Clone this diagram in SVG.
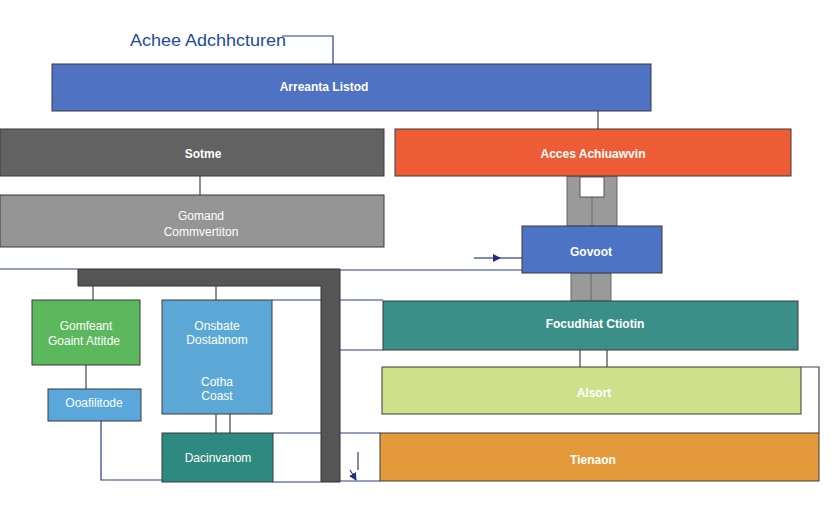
<svg xmlns="http://www.w3.org/2000/svg" width="832" height="512" viewBox="0 0 832 512">
<style>
.t{font-family:"Liberation Sans",Arial,sans-serif;font-size:12px;fill:#fff;text-anchor:middle;font-weight:bold}
.ln{stroke:#2b3d8a;stroke-width:1.2;fill:none}
.gl{stroke:#444;stroke-width:1.2;fill:none}
.bx{stroke:#3a3a3a;stroke-width:1}
</style>
<defs>
<marker id="ah" markerWidth="8" markerHeight="8" refX="7" refY="4" orient="auto" markerUnits="userSpaceOnUse">
<path d="M0,0 L8,4 L0,8 Z" fill="#1f2f80"/>
</marker>
</defs>
<rect width="832" height="512" fill="#fff"/>
<g id="connectors">
<path class="ln" d="M282,36 H333 V64"/>
<path class="gl" d="M598,111 V129"/>
<path class="gl" d="M200,176 V195"/>
<rect x="567" y="176" width="50" height="50" fill="#9a9a9a" stroke="#666"/>
<line x1="592" y1="176" x2="592" y2="226" stroke="#666"/>
<rect x="580" y="177" width="24" height="20" fill="#fff" stroke="#555"/>
<rect x="571" y="273" width="40" height="28" fill="#9a9a9a" stroke="#666"/>
<line x1="591" y1="273" x2="591" y2="301" stroke="#666"/>
<path class="ln" d="M0,269 H78"/>
<path class="ln" d="M340,270 H522"/>
<path class="ln" d="M474,258 H500" marker-end="url(#ah)"/>
<path class="ln" d="M500,258 H522"/>
<path fill="#555" stroke="#333" d="M78,269 H340 V482 H321 V286 H78 Z"/>
<path class="gl" d="M93,286 V300"/>
<path class="gl" d="M216,286 V300"/>
<path class="ln" d="M272,300 H321"/>
<path class="ln" d="M340,300 H383"/>
<path class="ln" d="M340,350 H383"/>
<path class="gl" d="M86,365 V389"/>
<path class="ln" d="M101,421 V480 H162"/>
<path class="gl" d="M216,414 V433 M230,414 V433"/>
<path class="ln" d="M273,433 H321"/>
<path class="ln" d="M273,482 H321"/>
<path class="gl" d="M580,350 V367 M607,350 V367"/>
<path class="gl" d="M801,367 H819 V433"/>
<path class="ln" d="M340,433 H380"/>
<path class="ln" d="M340,481 H380"/>
<path class="ln" d="M358,452 V470"/>
<path class="ln" d="M350,470 L356,480" marker-end="url(#ah)"/>
</g>
<g id="title"><text x="130" y="46" textLength="156" lengthAdjust="spacingAndGlyphs" style="font-family:'Liberation Sans',Arial,sans-serif;font-size:16px;fill:#1d4a9c">Achee Adchhcturen</text></g>
<g id="n-top"><rect class="bx" x="52" y="64" width="599" height="47" fill="#4f72c2" stroke="#2e4a8c"/><text class="t" x="324" y="91">Arreanta Listod</text></g>
<g id="n-sotme"><rect class="bx" x="0" y="129" width="384" height="47" fill="#626262"/><text class="t" x="203" y="158">Sotme</text></g>
<g id="n-gomand"><rect class="bx" x="0" y="195" width="384" height="52" fill="#959595" stroke="#777"/><text class="t" x="201" y="220" style="font-weight:normal">Gomand</text><text class="t" x="201" y="236" style="font-weight:normal">Commvertiton</text></g>
<g id="n-access"><rect class="bx" x="395" y="129" width="396" height="47" fill="#ee5c35"/><text class="t" x="593" y="158">Acces Achiuawvin</text></g>
<g id="n-govoot"><rect class="bx" x="522" y="226" width="140" height="47" fill="#4d73c4" stroke="#2e4a8c"/><text class="t" x="591" y="256">Govoot</text></g>
<g id="n-green"><rect class="bx" x="32" y="300" width="108" height="65" fill="#5cb85c" stroke="#3c8a3c"/><text class="t" x="86" y="330" style="font-weight:normal">Gomfeant</text><text class="t" x="84" y="345" style="font-weight:normal">Goaint Attitde</text></g>
<g id="n-lb"><rect class="bx" x="48" y="389" width="93" height="32" fill="#5aa8db" stroke="#5aa8db"/><text class="t" x="94" y="407" style="font-weight:normal">Ooafilitode</text></g>
<g id="n-onsbate"><rect class="bx" x="162" y="300" width="110" height="114" fill="#5ba8d6" stroke="#3a80b0"/><text class="t" x="217" y="330" style="font-weight:normal">Onsbate</text><text class="t" x="217" y="344" style="font-weight:normal">Dostabnom</text><text class="t" x="217" y="386" style="font-weight:normal">Cotha</text><text class="t" x="217" y="400" style="font-weight:normal">Coast</text></g>
<g id="n-dacin"><rect class="bx" x="162" y="433" width="111" height="49" fill="#2e8a80" stroke="#2a6a62"/><text class="t" x="218" y="462" style="font-weight:normal">Dacinvanom</text></g>
<g id="n-focus"><rect class="bx" x="383" y="301" width="415" height="49" fill="#3a9088" stroke="#2a6a62"/><text class="t" x="595" y="328">Focudhiat Ctiotin</text></g>
<g id="n-alsort"><rect class="bx" x="382" y="367" width="419" height="47" fill="#cfe08a" stroke="#555"/><text class="t" x="594" y="397">Alsort</text></g>
<g id="n-tienaon"><rect class="bx" x="380" y="433" width="439" height="48" fill="#e49a3a" stroke="#9a6a2a"/><text class="t" x="593" y="464">Tienaon</text></g>
</svg>
